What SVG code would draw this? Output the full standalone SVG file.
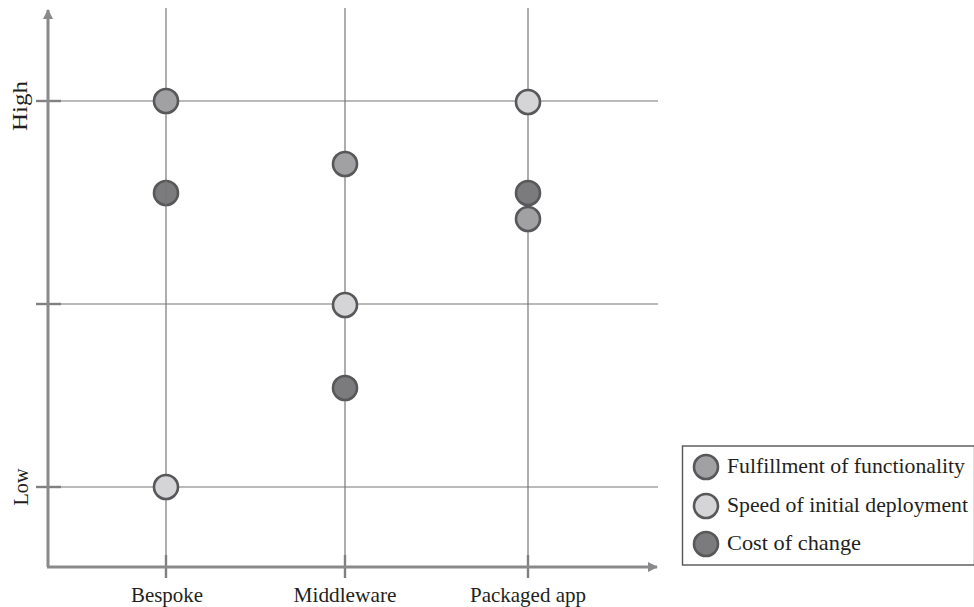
<svg xmlns="http://www.w3.org/2000/svg" width="974" height="607" viewBox="0 0 974 607">
  <defs>
    <marker id="arrow" viewBox="0 0 10 10" refX="9" refY="5" markerWidth="10" markerHeight="10" markerUnits="userSpaceOnUse" orient="auto">
      <path d="M0,0 L10,5 L0,10 Z" fill="#8a8a8c"/>
    </marker>
    <style>
      .grid { stroke: #777779; stroke-width: 1.2; fill: none; }
      .tick { stroke: #808082; stroke-width: 2.4; fill: none; }
      .axis { stroke: #8a8a8c; stroke-width: 3; fill: none; }
      .dot { stroke: #58585a; stroke-width: 2.6; }
      .func { fill: #a1a1a3; }
      .speed { fill: #d5d5d7; }
      .cost { fill: #7b7b7d; }
      .lbl { font-family: "Liberation Serif", "DejaVu Serif", serif; font-size: 21px; fill: #231f20; }
      .legend-box { fill: #ffffff; stroke: #555557; stroke-width: 1.4; }
    </style>
  </defs>

  <rect width="974" height="607" fill="#ffffff"/>

  <!-- grid and axes -->
  <g id="connectors">
    <line class="grid" x1="48" y1="101" x2="658" y2="101"/>
    <line class="grid" x1="48" y1="304" x2="658" y2="304"/>
    <line class="grid" x1="48" y1="487" x2="658" y2="487"/>
    <line class="grid" x1="166" y1="8" x2="166" y2="567"/>
    <line class="grid" x1="345" y1="8" x2="345" y2="567"/>
    <line class="grid" x1="528" y1="8" x2="528" y2="567"/>
    <line class="tick" x1="36" y1="101" x2="61" y2="101"/>
    <line class="tick" x1="36" y1="304" x2="61" y2="304"/>
    <line class="tick" x1="36" y1="487" x2="61" y2="487"/>
    <line class="tick" x1="166" y1="555" x2="166" y2="578"/>
    <line class="tick" x1="345" y1="555" x2="345" y2="578"/>
    <line class="tick" x1="528" y1="555" x2="528" y2="578"/>
    <line class="axis" x1="48" y1="567" x2="48" y2="10" marker-end="url(#arrow)"/>
    <line class="axis" x1="47" y1="567" x2="657" y2="567" marker-end="url(#arrow)"/>
  </g>

  <!-- axis labels -->
  <g id="axis-labels">
    <text class="lbl" transform="translate(27,106) rotate(-90)" text-anchor="middle" textLength="50" lengthAdjust="spacingAndGlyphs">High</text>
    <text class="lbl" transform="translate(28,487) rotate(-90)" text-anchor="middle" textLength="37" lengthAdjust="spacingAndGlyphs">Low</text>
    <text class="lbl" x="167" y="602" text-anchor="middle" textLength="72" lengthAdjust="spacingAndGlyphs">Bespoke</text>
    <text class="lbl" x="345" y="602" text-anchor="middle" textLength="103" lengthAdjust="spacingAndGlyphs">Middleware</text>
    <text class="lbl" x="528" y="602" text-anchor="middle" textLength="116" lengthAdjust="spacingAndGlyphs">Packaged app</text>
  </g>

  <!-- data points -->
  <g id="bespoke">
    <circle class="dot func" cx="166" cy="101" r="12"/>
    <circle class="dot cost" cx="166" cy="193" r="12"/>
    <line class="grid" x1="166" y1="181" x2="166" y2="205"/>
    <circle class="dot speed" cx="166" cy="487" r="12"/>
  </g>
  <g id="middleware">
    <circle class="dot func" cx="345" cy="164" r="12"/>
    <circle class="dot speed" cx="345" cy="305" r="12"/>
    <circle class="dot cost" cx="345" cy="388" r="12"/>
  </g>
  <g id="packaged-app">
    <circle class="dot speed" cx="528" cy="102" r="12"/>
    <circle class="dot cost" cx="528" cy="193" r="12"/>
    <circle class="dot func" cx="528" cy="219" r="12"/>
  </g>

  <!-- legend -->
  <g id="legend">
    <rect class="legend-box" x="682.5" y="446" width="292" height="119"/>
    <circle class="dot func" cx="706" cy="467" r="12"/>
    <circle class="dot speed" cx="706" cy="506" r="12"/>
    <circle class="dot cost" cx="706" cy="544" r="12"/>
    <text class="lbl" x="727" y="473" textLength="238" lengthAdjust="spacingAndGlyphs">Fulfillment of functionality</text>
    <text class="lbl" x="727" y="512" textLength="241" lengthAdjust="spacingAndGlyphs">Speed of initial deployment</text>
    <text class="lbl" x="727" y="550" textLength="134" lengthAdjust="spacingAndGlyphs">Cost of change</text>
  </g>
</svg>
